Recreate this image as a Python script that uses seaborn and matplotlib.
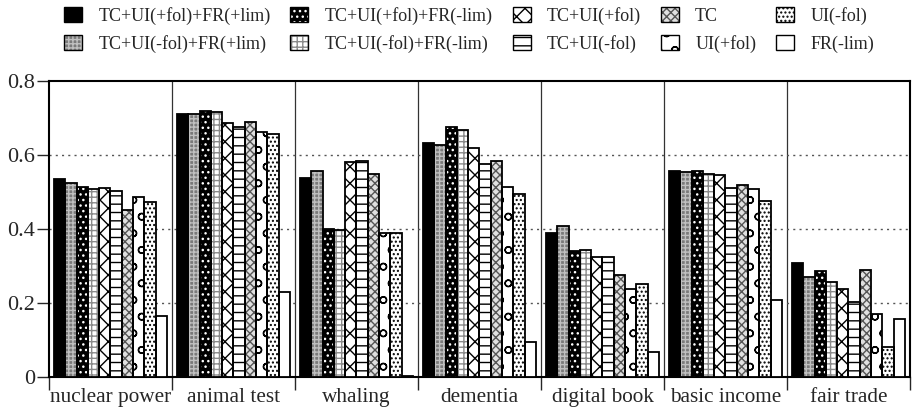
import numpy as np
import pandas as pd
import matplotlib
matplotlib.use("Agg")
import matplotlib.pyplot as plt
from matplotlib.patches import Rectangle, Patch
from matplotlib.ticker import FixedLocator, FuncFormatter
import seaborn as sns

# topics on the x axis
topics = ["nuclear power", "animal test", "whaling", "dementia",
          "digital book", "basic income", "fair trade"]

# feature sets, in bar order inside each group
features = ["TC+UI(+fol)+FR(+lim)", "TC+UI(-fol)+FR(+lim)",
            "TC+UI(+fol)+FR(-lim)", "TC+UI(-fol)+FR(-lim)",
            "TC+UI(+fol)", "TC+UI(-fol)", "TC",
            "UI(+fol)", "UI(-fol)", "FR(-lim)"]

# scores per feature set (one value per topic)
tc_ui_pf_fr_pl = [0.535, 0.710, 0.537, 0.632, 0.390, 0.557, 0.309]
tc_ui_mf_fr_pl = [0.523, 0.711, 0.557, 0.627, 0.409, 0.553, 0.271]
tc_ui_pf_fr_ml = [0.513, 0.718, 0.401, 0.675, 0.341, 0.557, 0.287]
tc_ui_mf_fr_ml = [0.507, 0.715, 0.398, 0.668, 0.344, 0.550, 0.258]
tc_ui_pf = [0.510, 0.686, 0.580, 0.618, 0.324, 0.546, 0.239]
tc_ui_mf = [0.504, 0.677, 0.585, 0.577, 0.325, 0.510, 0.204]
tc_only = [0.452, 0.690, 0.549, 0.584, 0.276, 0.519, 0.289]
ui_pf = [0.487, 0.661, 0.390, 0.514, 0.238, 0.508, 0.169]
ui_mf = [0.473, 0.658, 0.389, 0.494, 0.250, 0.477, 0.080]
fr_ml = [0.164, 0.229, 0.003, 0.095, 0.067, 0.207, 0.156]

series = [tc_ui_pf_fr_pl, tc_ui_mf_fr_pl, tc_ui_pf_fr_ml, tc_ui_mf_fr_ml,
          tc_ui_pf, tc_ui_mf, tc_only, ui_pf, ui_mf, fr_ml]

rows = []
for feat, vals in zip(features, series):
    for topic, v in zip(topics, vals):
        rows.append({"topic": topic, "feature": feat, "score": v})
df = pd.DataFrame(rows)

# (facecolor, hatch colour, hatch) for each feature set
styles = [
    ("black", "black", None),
    ("#7a7a7a", "#c0c0c0", "++++"),
    ("black", "white", "..."),
    ("white", "#8a8a8a", "+++"),
    ("white", "black", "xx"),
    ("white", "black", "--"),
    ("#e0e0e0", "#555555", "xxxx"),
    ("white", "black", "o"),
    ("white", "black", "...."),
    ("white", "white", None),
]

sns.set_style("ticks")
plt.rcParams["font.family"] = ["Liberation Serif", "DejaVu Serif"]
plt.rcParams["hatch.linewidth"] = 1.0

fig = plt.figure(figsize=(9.14, 4.15), dpi=100)
ax = fig.add_axes([0.0536, 0.0916, 0.942, 0.7132])

sns.barplot(data=df, x="topic", y="score", hue="feature", order=topics,
            hue_order=features, width=0.92, legend=False, ax=ax, zorder=3)

for cont, (fc, hc, hatch) in zip(ax.containers, styles):
    for bar in cont:
        bar.set_facecolor(fc)
        bar.set_edgecolor(hc)
        bar.set_linewidth(0)
        if hatch:
            bar.set_hatch(hatch)
        outline = Rectangle(bar.get_xy(), bar.get_width(), bar.get_height(),
                            fill=False, edgecolor="black", linewidth=1.3,
                            zorder=4)
        ax.add_patch(outline)

ax.set_xlim(-0.5, len(topics) - 0.5)
ax.set_ylim(0, 0.8)
ax.set_xlabel("")
ax.set_ylabel("")

# group separators and dotted grid
for b in np.arange(0.5, len(topics) - 0.5, 1.0):
    ax.axvline(b, color="#333333", linewidth=0.9, zorder=1)
for g in [0.2, 0.4, 0.6]:
    ax.axhline(g, color="#555555", linewidth=1.0, linestyle=(0, (1.5, 3)),
               zorder=1)

ax.xaxis.set_major_locator(FixedLocator(np.arange(-0.5, len(topics), 1.0)))
ax.xaxis.set_major_formatter(FuncFormatter(lambda v, p: ""))
ax.xaxis.set_minor_locator(FixedLocator(np.arange(len(topics))))
ax.set_xticklabels(topics, minor=True)
ax.tick_params(axis="x", which="major", length=9, width=1.0, direction="out")
ax.tick_params(axis="x", which="minor", length=0, labelsize=15.3, pad=8)

ax.set_yticks([0, 0.2, 0.4, 0.6, 0.8])
ax.yaxis.set_major_formatter(FuncFormatter(lambda v, p: "0" if v == 0 else f"{v:.1f}"))
ax.tick_params(axis="y", length=9, width=1.0, labelsize=16, pad=1)

for s in ax.spines.values():
    s.set_linewidth(1.5)
    s.set_color("black")
    s.set_visible(True)

handles = []
for fc, hc, hatch in styles:
    fill = Patch(facecolor=fc, edgecolor=hc, hatch=hatch, linewidth=0)
    edge = Patch(facecolor="none", edgecolor="black", linewidth=1.0)
    handles.append((fill, edge))
fig.legend(handles, features, ncol=5, loc="upper left",
           bbox_to_anchor=(64 / 914, 1 - 7 / 415), frameon=False,
           fontsize=13, borderpad=0, borderaxespad=0,
           handlelength=1.0, handleheight=0.9, handletextpad=0.9,
           columnspacing=1.1, labelspacing=0.55)

fig.savefig("out.png", dpi=100)
